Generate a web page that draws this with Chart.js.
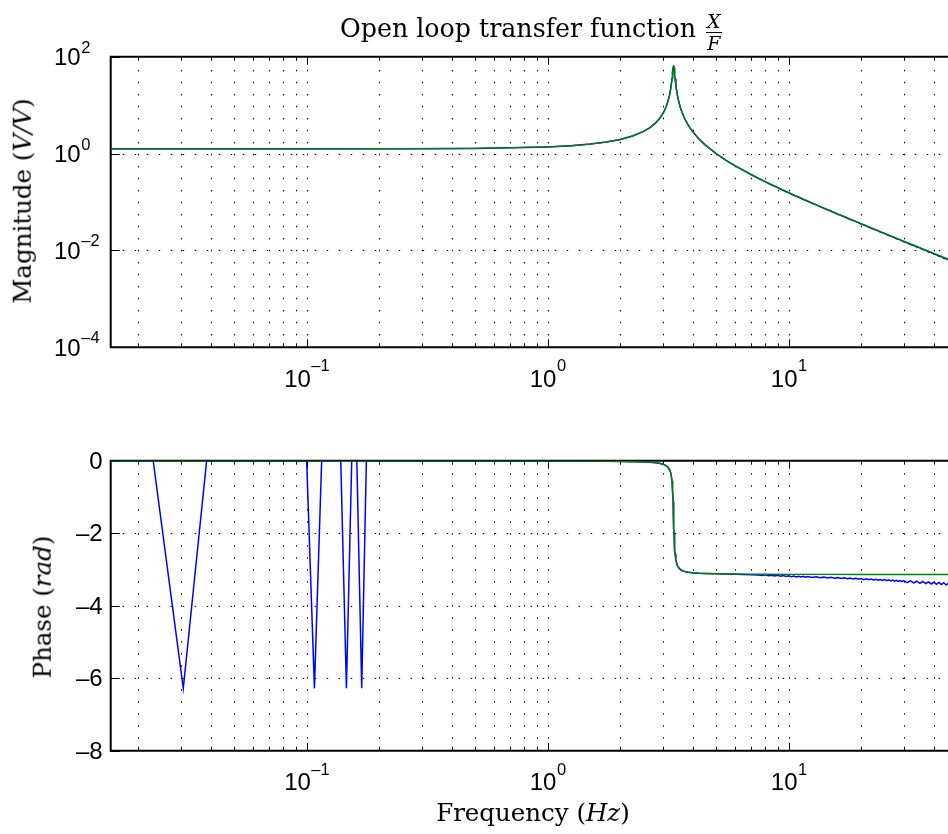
<!DOCTYPE html>
<html>
<head>
<meta charset="utf-8">
<script src="https://cdn.jsdelivr.net/npm/chart.js@4.4.1/dist/chart.umd.min.js"></script>
<style>
  html, body { margin: 0; padding: 0; background: #fff; overflow: hidden; width: 948px; height: 834px; }
  #wrap { position: relative; width: 948px; height: 834px; }
  canvas { position: absolute; left: 0; }
  #c1 { top: 0; }
  #c2 { top: 410px; }
  .lbl { position: absolute; font-family: 'DejaVu Serif', serif; font-size: 24.5px; line-height: 1; color: #000; white-space: nowrap; }
  .rot { transform: translate(-50%, -50%) rotate(-90deg); }
  .ctr { transform: translate(-50%, -50%); }
  i { font-style: italic; }
  #title { font-size: 25.3px; }
  .frac { display: inline-block; vertical-align: middle; text-align: center; font-style: italic; font-size: 19px; line-height: 1; margin-left: 2px; position: relative; top: 3px; }
  .frac .num { display: block; padding: 0 1px 1px 1px; border-bottom: 1px solid #000; }
  .frac .den { display: block; padding-top: 1px; }
</style>
</head>
<body>
<div id="wrap">
  <canvas id="c1" width="948" height="410"></canvas>
  <canvas id="c2" width="948" height="424"></canvas>
  <div class="lbl" id="title" style="left:340px; top:9px;">Open loop transfer function <span class="frac"><span class="num">X</span><span class="den">F</span></span></div>
  <div class="lbl rot" style="left:23px; top:201px;">Magnitude (<i>V/V</i>)</div>
  <div class="lbl rot" style="left:43px; top:607px;">Phase (<i>rad</i>)</div>
  <div class="lbl ctr" style="left:533px; top:813px;">Frequency (<i>Hz</i>)</div>
</div>
<script>
// ---------------- data ----------------
// model fit (green)
const freqGreen = [0.01538, 0.05, 0.1, 0.2, 0.5, 1, 1.25, 1.5, 1.75, 2, 2.25, 2.5, 2.65, 2.8, 2.9, 3.0, 3.05, 3.1, 3.15, 3.2, 3.225, 3.25, 3.28, 3.29, 3.3, 3.315, 3.32, 3.33, 3.34, 3.345, 3.35, 3.36, 3.37, 3.38, 3.4, 3.42, 3.45, 3.5, 3.55, 3.6, 3.7, 3.8, 3.9, 4, 4.25, 4.5, 5, 5.5, 6, 7, 8, 10, 12, 15, 20, 25, 30, 35, 40, 46];
const magGreen = [1.250, 1.2503, 1.2511, 1.2545, 1.2788, 1.3739, 1.4550, 1.5682, 1.7269, 1.9553, 2.3001, 2.8646, 3.4059, 4.260, 5.1621, 6.608, 7.7146, 9.291, 11.715, 15.88, 19.307, 24.53, 35.51, 41.16, 48.06, 59.70, 62.91, 65.79, 62.55, 59.21, 55.33, 47.44, 40.48, 34.86, 26.77, 21.49, 16.45, 11.73, 9.0586, 7.354, 5.3075, 4.126, 3.3574, 2.819, 1.9862, 1.5123, 0.9962, 0.7234, 0.5564, 0.3656, 0.26197, 0.15590, 0.10429, 0.06480, 0.035641, 0.022579, 0.015593, 0.011419, 0.0087236, 0.0065849];
const phaseGreen = [-0.0001, -0.0003, -0.0006, -0.0011, -0.0029, -0.0063, -0.0083, -0.0107, -0.0138, -0.0179, -0.0236, -0.0327, -0.0412, -0.0545, -0.0684, -0.0906, -0.1076, -0.1319, -0.1692, -0.2341, -0.2883, -0.3725, -0.5607, -0.6663, -0.8096, -1.1275, -1.2643, -1.5708, -1.8762, -2.0123, -2.1334, -2.3267, -2.4695, -2.5737, -2.7131, -2.7991, -2.8795, -2.9532, -2.9943, -3.0204, -3.0518, -3.0700, -3.0818, -3.0901, -3.1031, -3.1105, -3.1189, -3.1234, -3.1264, -3.1299, -3.1320, -3.1345, -3.1359, -3.1372, -3.1383, -3.1390, -3.1394, -3.1398, -3.1400, -3.1402];

// measured (blue): low-frequency bins, mid band, high band
const freqBlueLow = [0.01538, 0.02308, 0.03077, 0.03846, 0.04615, 0.07692, 0.1, 0.1077, 0.1154, 0.1385, 0.1462, 0.1538, 0.1615, 0.1692, 0.1769];
const magBlueLow = [1.250, 1.250, 1.250, 1.251, 1.250, 1.251, 1.251, 1.251, 1.252, 1.252, 1.253, 1.252, 1.253, 1.254, 1.253];
const phaseBlueLow = [-0.001, -0.001, -6.279, -0.001, -0.001, -0.001, -0.001, -6.280, -0.001, -0.001, -6.279, -0.001, -0.001, -6.279, -0.001];

const freqBlueMid = [0.2, 0.3, 0.5, 0.8, 1, 1.25, 1.5, 1.75, 2, 2.25, 2.5, 2.65, 2.8, 2.9, 3.0, 3.05, 3.1, 3.15, 3.2, 3.225, 3.25, 3.28, 3.29, 3.3, 3.315, 3.32, 3.33, 3.34, 3.345, 3.35, 3.36, 3.37, 3.38, 3.4, 3.42, 3.45, 3.5, 3.55, 3.6, 3.7, 3.8, 3.9, 4, 4.25, 4.5, 5, 5.5, 6, 7];
const magBlueMid = [1.254, 1.261, 1.279, 1.327, 1.374, 1.455, 1.568, 1.727, 1.955, 2.300, 2.864, 3.405, 4.26, 5.16, 6.60, 7.71, 9.28, 11.71, 15.9, 19.3, 24.5, 35.5, 41.2, 48.0, 59.8, 63.2, 66.5, 62.4, 59.0, 55.2, 47.4, 40.4, 34.8, 26.8, 21.5, 16.4, 11.7, 9.05, 7.35, 5.30, 4.12, 3.355, 2.82, 1.985, 1.512, 0.996, 0.723, 0.556, 0.3655];
const phaseBlueMid = [-0.001, -0.002, -0.003, -0.006, -0.008, -0.010, -0.012, -0.016, -0.020, -0.026, -0.036, -0.045, -0.060, -0.072, -0.100, -0.115, -0.140, -0.175, -0.250, -0.300, -0.380, -0.570, -0.680, -0.820, -1.130, -1.270, -1.570, -1.870, -2.010, -2.130, -2.330, -2.470, -2.580, -2.720, -2.800, -2.890, -2.960, -3.000, -3.030, -3.055, -3.075, -3.085, -3.095, -3.105, -3.110, -3.120, -3.128, -3.135, -3.145];

const freqBlueMagHigh = [8, 8.5, 9, 9.5, 10, 10.5, 11, 11.5, 12, 12.5, 13, 14, 15, 16, 17, 18, 19, 20, 21, 22, 23, 24, 25, 26, 27, 28, 29, 30, 31, 32, 33, 34, 35, 36, 37, 38, 39, 40, 41, 42, 43, 44, 45, 46];
const magBlueHigh = [0.2610, 0.2240, 0.1975, 0.1730, 0.1553, 0.1380, 0.1256, 0.1128, 0.1038, 0.0940, 0.0873, 0.0738, 0.0644, 0.0556, 0.0495, 0.0435, 0.0393, 0.0349, 0.0320, 0.0287, 0.0265, 0.0240, 0.0224, 0.0203, 0.0191, 0.0174, 0.0165, 0.0151, 0.0144, 0.0132, 0.0127, 0.0117, 0.0113, 0.0104, 0.0101, 0.00930, 0.00905, 0.00838, 0.00818, 0.00758, 0.00743, 0.00690, 0.00677, 0.00630];

const freqBluePhaseHigh = [7.5, 7.75, 8, 8.25, 8.5, 8.75, 9, 9.25, 9.5, 9.75, 10, 10.25, 10.5, 10.75, 11, 11.25, 11.5, 11.75, 12,
  12.5, 13, 13.5, 14, 14.5, 15, 15.5, 16, 16.5, 17, 17.5, 18, 18.5, 19, 19.5, 20, 20.5, 21, 21.5, 22, 22.5, 23, 23.5, 24, 24.5, 25, 25.5, 26, 26.5, 27, 27.5, 28, 28.5, 29, 29.5, 30,
  31, 32, 33, 34, 35, 36, 37, 38, 39, 40, 41, 42, 43, 44, 45, 46];
const phaseBlueHigh = [-3.150, -3.165, -3.148, -3.172, -3.158, -3.180, -3.162, -3.185, -3.170, -3.195, -3.175, -3.198, -3.182, -3.205, -3.186, -3.210, -3.192, -3.214, -3.197,
  -3.222, -3.203, -3.228, -3.212, -3.238, -3.218, -3.245, -3.226, -3.250, -3.232, -3.258, -3.240, -3.266, -3.246, -3.272, -3.252, -3.280, -3.258, -3.285, -3.264, -3.292, -3.270, -3.298, -3.276, -3.304, -3.282, -3.310, -3.288, -3.316, -3.294, -3.322, -3.300, -3.328, -3.305, -3.334, -3.310,
  -3.362, -3.315, -3.372, -3.325, -3.382, -3.333, -3.392, -3.342, -3.400, -3.350, -3.410, -3.358, -3.418, -3.366, -3.428, -3.374];

const freqBlueMag = [...freqBlueLow, ...freqBlueMid, ...freqBlueMagHigh];
const magBlue = [...magBlueLow, ...magBlueMid, ...magBlueHigh];
const freqBluePhase = [...freqBlueLow, ...freqBlueMid, ...freqBluePhaseHigh];
const phaseBlue = [...phaseBlueLow, ...phaseBlueMid, ...phaseBlueHigh];

// axes / ticks
const freqMin = 0.01538, freqMax = 45.8;
const freqDecades = [0.01, 0.1, 1, 10];
const minorSteps = [1, 2, 3, 4, 5, 6, 7, 8, 9];
const freqLabelValues = [0.1, 1, 10];
const freqLabelExps = ['\u20131', '0', '1'];
const magTickValues = [1e-4, 1e-2, 1, 1e2];
const magTickExps = ['\u20134', '\u20132', '0', '2'];
const phaseTickValues = [-8, -6, -4, -2, 0];
const phaseTickLabels = ['\u20138', '\u20136', '\u20134', '\u20132', '0'];

const xGridValues = freqDecades.flatMap(d => minorSteps.map(m => d * m)).filter(v => v > freqMin && v < freqMax);
const pts = (xs, ys) => xs.map((x, i) => ({ x, y: ys[i] }));

const BIG = '24px "Liberation Sans", Arial, sans-serif';
const SMALL = '16.5px "Liberation Sans", Arial, sans-serif';

function axesPlugin(cfg) {
  return {
    id: 'matlabAxes',
    beforeDatasetsDraw(chart) {
      const ctx = chart.ctx, a = chart.chartArea;
      const xs = chart.scales.x, ys = chart.scales.y;
      const line = (x1, y1, x2, y2) => { ctx.beginPath(); ctx.moveTo(x1, y1); ctx.lineTo(x2, y2); ctx.stroke(); };
      const isMajor = v => freqLabelValues.concat([0.01]).some(m => Math.abs(m - v) / m < 1e-6);
      ctx.save();
      // dotted grid
      ctx.lineWidth = 1;
      ctx.strokeStyle = '#000';
      ctx.setLineDash([1.5, 10.5]);
      for (const v of xGridValues) {
        const px = Math.round(xs.getPixelForValue(v)) + 0.5;
        if (px < a.left + 3 || px > a.right) continue;
        line(px, a.bottom, px, a.top);
      }
      for (const v of cfg.yTicks) {
        const py = Math.round(ys.getPixelForValue(v)) + 0.5;
        if (py < a.top + 3 || py > a.bottom - 3) continue;
        line(a.left, py, a.right, py);
      }
      ctx.setLineDash([]);
      // inward tick marks
      ctx.strokeStyle = '#000';
      for (const v of xGridValues) {
        const px = Math.round(xs.getPixelForValue(v)) + 0.5;
        if (px < a.left + 3 || px > a.right) continue;
        const len = isMajor(v) ? 8 : 4;
        line(px, a.bottom, px, a.bottom - len);
        line(px, a.top, px, a.top + len);
      }
      for (const v of cfg.yTicks) {
        const py = Math.round(ys.getPixelForValue(v)) + 0.5;
        line(a.left, py, a.left + 9, py);
      }
      // box (left, top, bottom; right edge lies outside the picture)
      ctx.lineWidth = 2;
      ctx.beginPath();
      ctx.moveTo(a.right + 2, a.top);
      ctx.lineTo(a.left, a.top);
      ctx.lineTo(a.left, a.bottom);
      ctx.lineTo(a.right + 2, a.bottom);
      ctx.stroke();
      ctx.restore();
    },
    afterDraw(chart) {
      const ctx = chart.ctx, a = chart.chartArea;
      const xs = chart.scales.x, ys = chart.scales.y;
      ctx.save();
      ctx.fillStyle = '#000';
      ctx.textBaseline = 'alphabetic';
      ctx.textAlign = 'left';
      freqLabelValues.forEach((v, i) => {
        const px = xs.getPixelForValue(v);
        ctx.font = BIG; const w1 = ctx.measureText('10').width;
        ctx.font = SMALL; const w2 = ctx.measureText(freqLabelExps[i]).width;
        const s = px - (w1 + w2) / 2;
        ctx.font = BIG; ctx.fillText('10', s, a.bottom + 39.5);
        ctx.font = SMALL; ctx.fillText(freqLabelExps[i], s + w1 + 0.5, a.bottom + 24);
      });
      if (cfg.log) {
        cfg.yTicks.forEach((v, i) => {
          const py = ys.getPixelForValue(v);
          ctx.font = BIG; ctx.textAlign = 'right';
          ctx.fillText('10', a.left - 30, py + 8.5);
          ctx.font = SMALL; ctx.textAlign = 'left';
          ctx.fillText(cfg.yLabels[i], a.left - 29.5, py - 4);
        });
      } else {
        ctx.font = BIG; ctx.textAlign = 'right'; ctx.textBaseline = 'middle';
        cfg.yTicks.forEach((v, i) => {
          const py = ys.getPixelForValue(v);
          ctx.fillText(cfg.yLabels[i], a.left - 8, py + 1.5);
        });
      }
      ctx.restore();
    }
  };
}

function makeChart(id, blueF, blueY, greenF, greenY, yScale, padTop, xHeight, plugin) {
  return new Chart(document.getElementById(id), {
    type: 'line',
    data: {
      datasets: [
        { label: 'measured', data: pts(blueF, blueY), borderColor: '#0000ff', borderWidth: 1.5, pointRadius: 0, tension: 0, fill: false, order: 2 },
        { label: 'model', data: pts(greenF, greenY), borderColor: '#008000', borderWidth: 1.4, pointRadius: 0, tension: 0, fill: false, order: 1 }
      ]
    },
    options: {
      responsive: false,
      maintainAspectRatio: false,
      animation: false,
      events: [],
      layout: { padding: { top: padTop, left: 0, right: 0, bottom: 0 } },
      plugins: { legend: { display: false }, tooltip: { enabled: false }, title: { display: false } },
      scales: {
        x: {
          type: 'logarithmic', min: freqMin, max: freqMax, position: 'bottom',
          grid: { display: false }, border: { display: false }, ticks: { display: false },
          afterFit: s => { s.height = xHeight; }
        },
        y: Object.assign({
          position: 'left',
          grid: { display: false }, border: { display: false }, ticks: { display: false },
          afterFit: s => { s.width = 110.7; }
        }, yScale)
      }
    },
    plugins: [plugin]
  });
}

makeChart('c1', freqBlueMag, magBlue, freqGreen, magGreen, { type: 'logarithmic', min: 1e-4, max: 1e2 }, 56.7, 62.7,
  axesPlugin({ log: true, yTicks: magTickValues, yLabels: magTickExps }));
makeChart('c2', freqBluePhase, phaseBlue, freqGreen, phaseGreen, { type: 'linear', min: -8, max: 0 }, 50.7, 83.3,
  axesPlugin({ log: false, yTicks: phaseTickValues, yLabels: phaseTickLabels }));
</script>
</body>
</html>
